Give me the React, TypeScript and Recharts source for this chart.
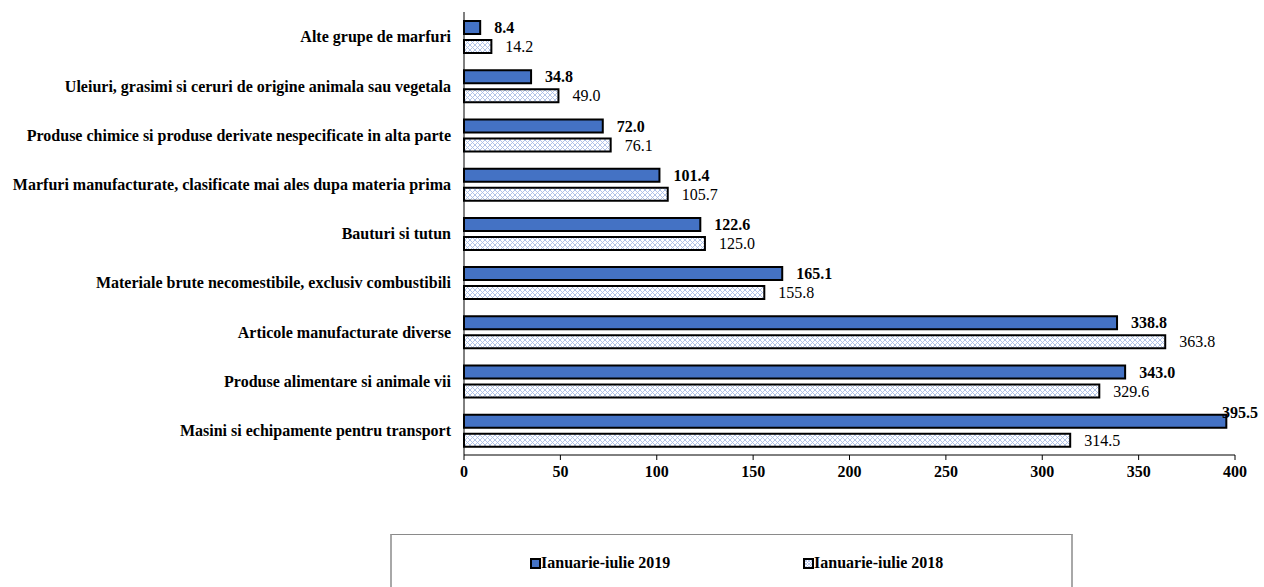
import React from "react";
import { Bar, BarChart, LabelList, Legend, XAxis, YAxis } from "recharts";

const categories = [
  "Alte grupe de marfuri",
  "Uleiuri, grasimi si ceruri de origine animala sau vegetala",
  "Produse chimice si produse derivate nespecificate in alta parte",
  "Marfuri manufacturate, clasificate mai ales dupa materia prima",
  "Bauturi si tutun",
  "Materiale brute necomestibile, exclusiv combustibili",
  "Articole manufacturate diverse",
  "Produse alimentare si animale vii",
  "Masini si echipamente pentru transport",
];
const values2019 = [8.4, 34.8, 72.0, 101.4, 122.6, 165.1, 338.8, 343.0, 395.5];
const values2018 = [14.2, 49.0, 76.1, 105.7, 125.0, 155.8, 363.8, 329.6, 314.5];
const xTicks = [0, 50, 100, 150, 200, 250, 300, 350, 400];
const bandTicks = [0, 1, 2, 3, 4, 5, 6, 7, 8, 9];

const data = categories.map((name, i) => ({
  name,
  v2019: values2019[i],
  v2018: values2018[i],
}));

const FONT = '"Liberation Serif", "Times New Roman", serif';
const FS = 16;
const BLUE = "#4472C4";
const CHART_W = 1264;

const ValueLabel = (props: any) => {
  const { x, y, width, height, value, bold } = props;
  const text = Number(value).toFixed(1);
  const textW = text.length * 8;
  let tx = x + width + 14;
  let ty = y + height / 2;
  if (tx + textW > CHART_W - 2) {
    // no room on the right: tuck it above the bar end like Excel does
    tx = CHART_W - 2 - textW;
    ty = y - 2;
  }
  return (
    <text
      x={tx}
      y={ty}
      dy="0.35em"
      fontFamily={FONT}
      fontSize={FS}
      fontWeight={bold ? "bold" : "normal"}
      fill="#000"
    >
      {text}
    </text>
  );
};

const LegendBox = () => (
  <div
    style={{
      position: "relative",
      width: 683,
      height: 60,
      borderTop: "1px solid #8a8a8a",
      borderLeft: "2px solid #a8a8a8",
      borderRight: "2px solid #a8a8a8",
      boxSizing: "border-box",
      fontFamily: FONT,
      fontWeight: "bold",
      fontSize: FS,
      color: "#000",
    }}
  >
    {[
      { label: "Ianuarie-iulie 2019", fill: BLUE, left: 138 },
      { label: "Ianuarie-iulie 2018", fill: "url(#hatch2018)", left: 411 },
    ].map((item) => (
      <div
        key={item.label}
        style={{ position: "absolute", left: item.left, top: 19, display: "flex", alignItems: "center" }}
      >
        <svg width={11} height={11} style={{ marginRight: 0 }}>
          <defs>
            <pattern id="hatch2018" width={3} height={3} patternUnits="userSpaceOnUse">
              <rect width={3} height={3} fill="#fff" />
              <path d="M0 0L3 3M3 0L0 3" stroke="#a9bde6" strokeWidth={0.8} />
            </pattern>
          </defs>
          <rect x={1} y={1} width={9} height={9} fill={item.fill} stroke="#000" strokeWidth={2} />
        </svg>
        <span>{item.label}</span>
      </div>
    ))}
  </div>
);

export default function App() {
  return (
    <div style={{ position: "absolute", left: 0, top: 0, background: "#fff" }}>
      <BarChart
        width={1264}
        height={587}
        data={data}
        layout="vertical"
        margin={{ top: 12, right: 29, left: 0, bottom: 102 }}
        barSize={13}
        barGap={6}
      >
        <defs>
          <pattern id="hatch" width={5} height={5} patternUnits="userSpaceOnUse">
            <rect width={5} height={5} fill="#fff" />
            <path d="M0 0L5 5M5 0L0 5" stroke="#a9bde6" strokeWidth={0.9} />
          </pattern>
        </defs>
        <YAxis
          yAxisId="band"
          type="number"
          domain={[0, 9]}
          ticks={bandTicks}
          allowDataOverflow
          tick={false}
          tickLine={{ stroke: "#000" }}
          tickSize={5}
          axisLine={false}
          width={0}
        />
        <YAxis
          yAxisId="cat"
          type="category"
          dataKey="name"
          width={464}
          tickLine={false}
          tickSize={0}
          tickMargin={13}
          axisLine={{ stroke: "#000" }}
          interval={0}
          tick={{ fontFamily: FONT, fontSize: FS, fontWeight: "bold", fill: "#000" }}
        />
        <XAxis
          type="number"
          domain={[0, 400]}
          ticks={xTicks}
          axisLine={{ stroke: "#000" }}
          tickLine={{ stroke: "#000" }}
          tickSize={5}
          tickMargin={6}
          height={30}
          tick={{ fontFamily: FONT, fontSize: FS, fontWeight: "bold", fill: "#000" }}
        />
        <Legend
          layout="horizontal"
          verticalAlign="middle"
          content={() => <LegendBox />}
          wrapperStyle={{ position: "absolute", left: 390, top: 534, width: 683, height: 60 }}
        />
        <Bar
          yAxisId="cat"
          dataKey="v2019"
          name="Ianuarie-iulie 2019"
          fill={BLUE}
          stroke="#000"
          strokeWidth={2}
          isAnimationActive={false}
        >
          <LabelList dataKey="v2019" content={(p: any) => <ValueLabel {...p} bold />} />
        </Bar>
        <Bar
          yAxisId="cat"
          dataKey="v2018"
          name="Ianuarie-iulie 2018"
          fill="url(#hatch)"
          stroke="#000"
          strokeWidth={2}
          isAnimationActive={false}
        >
          <LabelList dataKey="v2018" content={(p: any) => <ValueLabel {...p} />} />
        </Bar>
      </BarChart>
    </div>
  );
}
